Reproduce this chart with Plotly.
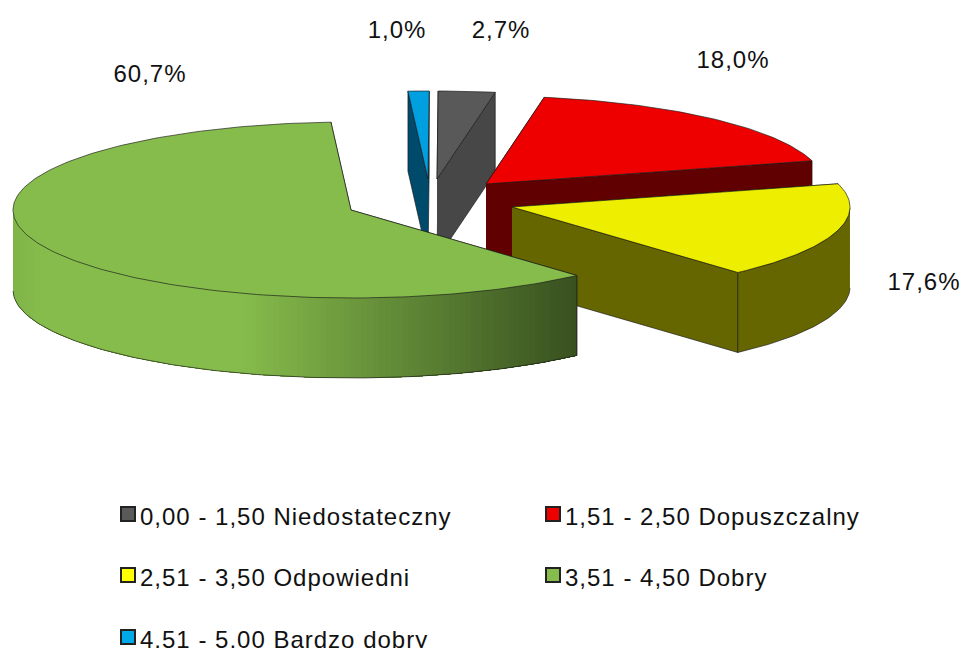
import math
import plotly.graph_objects as go

categories = ["0,00 - 1,50 Niedostateczny", "1,51 - 2,50 Dopuszczalny", "2,51 - 3,50 Odpowiedni",
              "3,51 - 4,50 Dobry", "4,51 - 5,00 Bardzo dobry"]
values = [2.7, 18.0, 17.6, 60.7, 1.0]

top_colors = ["#595959", "#ee0000", "#eeee00", "#86bc4c", "#00a0e0"]
wall_colors = ["#474747", "#600000", "#666600", "#86bc4c", "#004a6b"]
swatch_colors = ["#595959", "#ee0000", "#ffff00", "#86bc4c", "#00a8e8"]

# slice apex on the page, i.e. the explosion of the 3D pie
apex = [(437, 179), (486, 184), (512, 207), (351, 210), (428, 179)]
label_pos = [(501, 32), (733, 62), (924, 284), (150, 76), (397, 32)]
swatch_pos = [(128, 514), (553, 514), (128, 575), (553, 575), (128, 637)]
legend_text_offset = (12, 5)
draw_order = [4, 0, 1, 2, 3]

RX, RY, DEPTH = 338, 88, 80
START = 89.8
EDGE = "rgba(25,25,25,0.65)"
FONT = "Liberation Sans"

fig = go.Figure()


def poly(xs, ys, fill, line=None, width=1):
    fig.add_trace(go.Scatter(x=xs, y=ys, mode="lines", fill="toself", fillcolor=fill,
                             line=dict(color=line or fill, width=width),
                             hoverinfo="skip", showlegend=False))


def stroke(xs, ys):
    fig.add_trace(go.Scatter(x=xs, y=ys, mode="lines", line=dict(color=EDGE, width=1),
                             hoverinfo="skip", showlegend=False))


def lerp_hex(a, b, t):
    ca = [int(a[i:i + 2], 16) for i in (1, 3, 5)]
    cb = [int(b[i:i + 2], 16) for i in (1, 3, 5)]
    return "rgb(%d,%d,%d)" % tuple(round(p + (q - p) * t) for p, q in zip(ca, cb))


def green_wall(x):
    if x < 240:
        return lerp_hex("#7fb548", "#86bc4c", min(1, (x - 12) / 30))
    return lerp_hex("#86bc4c", "#38501f", (x - 240) / 338)


bounds = []
a = START
for v in values:
    bounds.append((a, a - v * 3.6))
    a -= v * 3.6

for i in draw_order:
    cx, cy = apex[i]
    a0, a1 = bounds[i]
    n = max(4, int(abs(a0 - a1)))
    angs = [a0 + (a1 - a0) * k / n for k in range(n + 1)]
    ax = [cx + RX * math.cos(math.radians(t)) for t in angs]
    ay = [cy - RY * math.sin(math.radians(t)) for t in angs]

    # cut faces
    for ex, ey in ((ax[0], ay[0]), (ax[-1], ay[-1])):
        poly([cx, ex, ex, cx], [cy, ey, ey + DEPTH, cy + DEPTH],
             wall_colors[i] if i != 3 else "#38501f", EDGE)

    # outer wall: only the front half of the arc can be seen
    front = [k for k in range(n + 1) if math.sin(math.radians(angs[k])) <= 0.001]
    fx = [ax[k] for k in front]
    fy = [ay[k] for k in front]
    if len(front) > 1:
        if i == 3:
            # painted from left to right, each strip running on to the right end, so no seams show
            for m in range(len(fx) - 1, 0, -1):
                c = green_wall((fx[m] + fx[m - 1]) / 2)
                poly(fx[:m + 1] + fx[:m + 1][::-1],
                     fy[:m + 1] + [y + DEPTH for y in fy[:m + 1][::-1]], c, width=0)
            stroke(fx, [y + DEPTH for y in fy])
            stroke([fx[0], fx[0]], [fy[0], fy[0] + DEPTH])
        else:
            poly(fx + fx[::-1], fy + [y + DEPTH for y in fy[::-1]], wall_colors[i], EDGE)

    # top face
    poly([cx] + ax + [cx], [cy] + ay + [cy], top_colors[i], EDGE)

# data labels
fig.add_trace(go.Scatter(
    x=[p[0] for p in label_pos], y=[p[1] for p in label_pos], mode="text",
    text=[f"{v:.1f}".replace(".", ",") + "%" for v in values],
    textposition="middle center", textfont=dict(family=FONT, size=24, color="#111111"),
    hoverinfo="skip", showlegend=False))

# legend
for name, col, (lx, ly) in zip(categories, swatch_colors, swatch_pos):
    fig.add_trace(go.Scatter(
        x=[lx], y=[ly], mode="markers",
        marker=dict(symbol="square", size=14, color=col, line=dict(color="#222222", width=2)),
        hoverinfo="skip", showlegend=False, cliponaxis=False))
    fig.add_trace(go.Scatter(
        x=[lx + legend_text_offset[0]], y=[ly + legend_text_offset[1]], mode="text", text=[name],
        textposition="middle right", textfont=dict(family=FONT, size=24, color="#111111"),
        hoverinfo="skip", showlegend=False, cliponaxis=False))

fig.update_layout(
    width=960, height=648, margin=dict(l=0, r=0, t=0, b=0),
    paper_bgcolor="white", plot_bgcolor="white", showlegend=False,
    xaxis=dict(range=[0, 960], visible=False, fixedrange=True),
    yaxis=dict(range=[648, 0], visible=False, fixedrange=True),
)
post = ("document.body.style.margin='0';"
        "var s=document.createElement('style');"
        "s.textContent='.textpoint text{letter-spacing:1px}';"
        "document.head.appendChild(s);")
fig.write_html("out.html", post_script=post, config={"displayModeBar": False})
